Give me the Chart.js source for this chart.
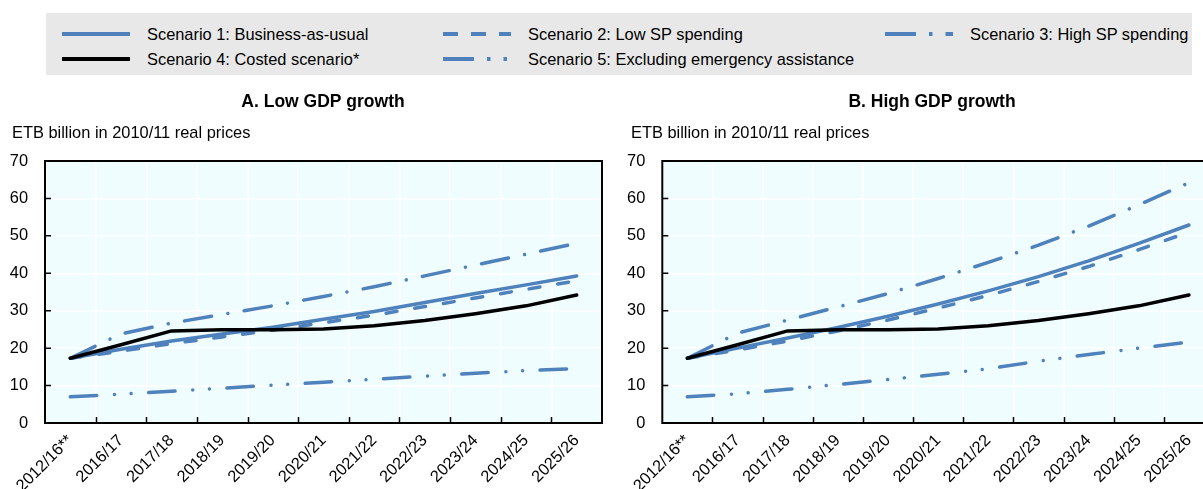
<!DOCTYPE html>
<html><head><meta charset="utf-8">
<script src="https://cdn.jsdelivr.net/npm/chart.js@4.4.1/dist/chart.umd.min.js"></script>
<style>
html,body{margin:0;padding:0;background:#fff;}
body{width:1203px;height:489px;overflow:hidden;position:relative;font-family:"Liberation Sans",Arial,sans-serif;}
#legend{position:absolute;left:46px;top:13px;width:1146px;height:62px;background:#e8e8e8;}
.item{position:absolute;height:22px;display:flex;align-items:center;font-size:16.4px;color:#000;white-space:nowrap;}
.item svg{margin-right:17px;flex:none;}
canvas{position:absolute;top:0;}
</style></head>
<body>
<div id="legend"></div>
<canvas id="chartA" width="612" height="489" style="left:0px"></canvas>
<canvas id="chartB" width="612" height="489" style="left:612px"></canvas>
<script>
// ---- data ----
const categories = ['2012/16**','2016/17','2017/18','2018/19','2019/20','2020/21','2021/22','2022/23','2023/24','2024/25','2025/26'];
const yTicks = [0,10,20,30,40,50,60,70];
const seriesNames = ['Scenario 1: Business-as-usual','Scenario 2: Low SP spending','Scenario 3: High SP spending','Scenario 4: Costed scenario*','Scenario 5: Excluding emergency assistance'];
const panelTitles = ['A. Low GDP growth','B. High GDP growth'];
const unitLabel = 'ETB billion in 2010/11 real prices';

// Panel A: low GDP growth
const lowS1 = [17.3, 19.7, 21.9, 23.8, 25.6, 27.7, 29.8, 32.2, 34.6, 36.9, 39.3];
const lowS2 = [17.3, 19.2, 21.2, 23.0, 24.8, 26.8, 28.8, 31.1, 33.4, 35.7, 38.0];
const lowS3 = [17.3, 23.8, 26.7, 29.0, 31.3, 33.8, 36.4, 39.3, 42.2, 45.1, 48.0];
const lowS4 = [17.3, 20.9, 24.6, 24.9, 24.9, 25.1, 26.0, 27.4, 29.2, 31.3, 34.2];
const lowS5 = [7.0, 7.7, 8.5, 9.3, 10.1, 10.9, 11.7, 12.5, 13.3, 14.0, 14.5];

// Panel B: high GDP growth
const highS1 = [17.3, 20.0, 22.7, 25.5, 28.5, 31.8, 35.3, 39.1, 43.3, 48.0, 52.9];
const highS2 = [17.3, 19.5, 21.9, 24.6, 27.5, 30.7, 34.1, 37.8, 41.8, 46.3, 51.0];
const highS3 = [17.3, 24.0, 27.5, 31.0, 34.6, 38.6, 42.9, 47.5, 52.6, 58.3, 64.2];
const highS4 = [17.3, 20.9, 24.6, 24.9, 24.9, 25.1, 26.0, 27.4, 29.2, 31.3, 34.2];
const highS5 = [7.0, 7.8, 9.0, 10.3, 11.6, 13.0, 14.5, 16.5, 18.3, 20.0, 21.6];

// ---- styles ----
const BLUE = '#4f81bd';
const PLOT_BG = '#f0fdfe';
const FONT = '"Liberation Sans", Arial, sans-serif';
const styles = [
  {color: BLUE, dash: [], legendDash: ''},
  {color: BLUE, dash: [11, 18], legendDash: '15 13'},
  {color: BLUE, dash: [27.5, 16.5, 0.01, 16.5], legendDash: '31 13 3.5 13'},
  {color: '#000000', dash: [], legendDash: ''},
  {color: BLUE, dash: [26.5, 17.7, 0.01, 16.7, 0.01, 17.5], legendDash: '31 13 3.5 13 3.5 13'}
];

// ---- legend (HTML) ----
const legendPos = [
  {x: 62, y: 34}, {x: 443, y: 34}, {x: 885, y: 34},
  {x: 62, y: 59}, {x: 443, y: 59}
];
const legend = document.getElementById('legend');
seriesNames.forEach((name, i) => {
  const d = document.createElement('div');
  d.className = 'item';
  d.style.left = (legendPos[i].x - 46) + 'px';
  d.style.top = (legendPos[i].y - 13 - 11) + 'px';
  const st = styles[i];
  d.innerHTML = '<svg width="68" height="22"><line x1="0" y1="11" x2="68" y2="11" stroke="' + st.color +
    '" stroke-width="4" ' + (st.legendDash ? 'stroke-dasharray="' + st.legendDash + '"' : '') + '/></svg><span></span>';
  d.querySelector('span').textContent = name;
  legend.appendChild(d);
});

Chart.defaults.font.family = FONT;
Chart.defaults.font.size = 16.4;
Chart.defaults.color = '#000';

function makeChart(id, series, title, titleX, unitX, yWidth) {
  const order = [3, 0, 1, 2, 4]; // black drawn on top
  const datasets = order.map(i => ({
    label: seriesNames[i],
    data: series[i],
    borderColor: styles[i].color,
    backgroundColor: styles[i].color,
    borderWidth: 3.5,
    borderDash: styles[i].dash,
    borderCapStyle: 'round',
    borderJoinStyle: 'round',
    pointRadius: 0,
    pointHoverRadius: 0,
    fill: false,
    tension: 0
  }));
  const framePlugin = {
    id: 'frame' + id,
    beforeDraw(chart) {
      const {ctx, chartArea: a} = chart;
      ctx.save();
      ctx.fillStyle = PLOT_BG;
      ctx.fillRect(a.left, a.top, a.right - a.left, a.bottom - a.top);
      ctx.restore();
    },
    afterDatasetsDraw(chart) {
      const {ctx, chartArea: a, scales: {x, y}} = chart;
      ctx.save();
      ctx.strokeStyle = '#000';
      ctx.lineWidth = 2;
      ctx.strokeRect(a.left, a.top, a.right - a.left, a.bottom - a.top);
      ctx.lineWidth = 1.5;
      ctx.beginPath();
      for (let i = 1; i < categories.length; i++) {
        const px = Math.round((x.getPixelForTick(i - 1) + x.getPixelForTick(i)) / 2) + 0.5;
        ctx.moveTo(px, a.bottom);
        ctx.lineTo(px, a.bottom - 6);
      }
      y.ticks.forEach((t, i) => {
        const py = y.getPixelForTick(i);
        ctx.moveTo(a.left, py);
        ctx.lineTo(a.left + 6, py);
      });
      ctx.stroke();
      ctx.restore();
    },
    afterDraw(chart) {
      const ctx = chart.ctx;
      ctx.save();
      ctx.fillStyle = '#000';
      ctx.textBaseline = 'middle';
      ctx.font = 'bold 17.5px ' + FONT;
      ctx.textAlign = 'center';
      ctx.fillText(title, titleX, 102);
      ctx.font = '16.4px ' + FONT;
      ctx.textAlign = 'left';
      ctx.fillText(unitLabel, unitX, 133);
      ctx.restore();
    }
  };
  return new Chart(document.getElementById(id), {
    type: 'line',
    data: {labels: categories, datasets},
    options: {
      responsive: false,
      animation: false,
      devicePixelRatio: 1,
      layout: {padding: {left: 0, right: 10, top: 161, bottom: 0}},
      plugins: {legend: {display: false}, tooltip: {enabled: false}, title: {display: false}},
      scales: {
        x: {
          type: 'category',
          offset: true,
          grid: {offset: true, color: '#ffffff', lineWidth: 1.5, drawTicks: false},
          border: {display: false},
          ticks: {minRotation: 45, maxRotation: 45, padding: 8, autoSkip: false, color: '#000'},
          afterFit(s) { s.height = 66; }
        },
        y: {
          min: yTicks[0],
          max: yTicks[yTicks.length - 1],
          grid: {color: '#ffffff', lineWidth: 1.5, drawTicks: false},
          border: {display: false},
          ticks: {stepSize: yTicks[1] - yTicks[0], padding: 17, color: '#000'},
          afterFit(s) { s.width = yWidth; }
        }
      }
    },
    plugins: [framePlugin]
  });
}

makeChart('chartA', [lowS1, lowS2, lowS3, lowS4, lowS5], panelTitles[0], 323, 12, 45);
makeChart('chartB', [highS1, highS2, highS3, highS4, highS5], panelTitles[1], 320, 19, 50.3);
</script>
</body></html>
